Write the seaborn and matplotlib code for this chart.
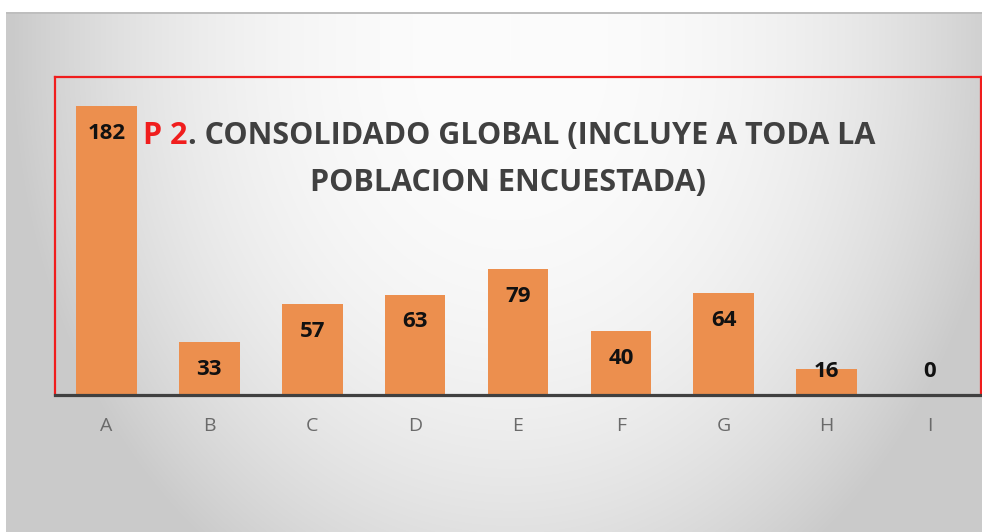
## Bar chart: P 2. consolidado global (all respondents)

# Imports
import numpy as np
import pandas as pd
import matplotlib
matplotlib.use("Agg")
import matplotlib.pyplot as plt
import seaborn as sns

############################# Data ################################

categories = ["A", "B", "C", "D", "E", "F", "G", "H", "I"]
counts = [182, 33, 57, 63, 79, 40, 64, 16, 0]

title_red = "P 2"
title_line1 = ". CONSOLIDADO GLOBAL (INCLUYE A TODA LA"
title_line2 = "POBLACION ENCUESTADA)"

df = pd.DataFrame({"option": categories, "count": counts})

#List of colours
bar_colour = "#EC8F4E"
red = "#F01D1D"
dark = "#404040"

############################# Plotting ################################

sns.set_theme(style = "white")
plt.rcParams["font.family"] = ["Open Sans", "DejaVu Sans"]

W, H = 982, 532
fig = plt.figure(figsize = (W / 100, H / 100), dpi = 100)

# Slide background: soft radial gradient, white margin at top/left
bg = fig.add_axes([0, 0, 1, 1], zorder = -10)
yy, xx = np.mgrid[0:H, 0:W]
ex = (xx - 510) / 500
ey = np.clip(yy - 60, 0, None) / 440 * 0.72
shade = 252 - 50 * np.minimum(1, ex ** 2 + ey ** 2) ** 1.2
shade[(yy < 12) | (xx < 6)] = 255
shade[(yy >= 12) & (yy < 14) & (xx >= 6)] = 190
img = np.dstack([shade, shade, shade]) / 255
bg.imshow(img, extent = (0, W, H, 0), aspect = "auto", interpolation = "bilinear")
bg.set_axis_off()

# Main axes sits inside the red box
ax = fig.add_axes([55 / W, 1 - 394.5 / H, (981 - 55) / W, (394.5 - 77) / H])
ax.set_facecolor("none")

sns.barplot(data = df, x = "option", y = "count", color = bar_colour, width = 0.59,
            saturation = 1, linewidth = 0, ax = ax, zorder = 2)

ax.set_xlim(-0.5, 8.5)
ax.set_ylim(0, 200.5)

# Value labels near the top of each bar, kept above the baseline
for i, v in enumerate(counts):
    ax.text(i, max(v - 17, 14.5), str(v), ha = "center", va = "center",
            fontsize = 16, fontweight = "bold", color = "#111111", zorder = 3)

# Remove axis titles
ax.set_xlabel("")
ax.set_ylabel("")
ax.set_yticks([])
ax.tick_params(axis = "x", length = 0, pad = 16, labelsize = 14, labelcolor = "#6a6a6a")

# Red frame on three sides, dark axis line at the bottom
for side in ["left", "top", "right"]:
    ax.spines[side].set_color(red)
    ax.spines[side].set_linewidth(1.6)
ax.spines["bottom"].set_color(dark)
ax.spines["bottom"].set_linewidth(2.3)
ax.spines["bottom"].set_zorder(4)

# Title in two lines, "P 2" in red
title_kw = dict(fontsize = 22, fontweight = "bold", va = "center")
full = fig.text(509 / W, 1 - 136 / H, title_red + title_line1, ha = "center", alpha = 0, **title_kw)
fig.canvas.draw()
renderer = fig.canvas.get_renderer()
x0 = full.get_window_extent(renderer).x0
red_part = fig.text(x0 / W, 1 - 136 / H, title_red, ha = "left", color = red, **title_kw)
red_w = red_part.get_window_extent(renderer).width
fig.text((x0 + red_w) / W, 1 - 136 / H, title_line1, ha = "left", color = dark, **title_kw)
fig.text(508 / W, 1 - 183 / H, title_line2, ha = "center", color = dark, **title_kw)

# Save plot
fig.savefig("out.png", dpi = 100)
plt.close()
